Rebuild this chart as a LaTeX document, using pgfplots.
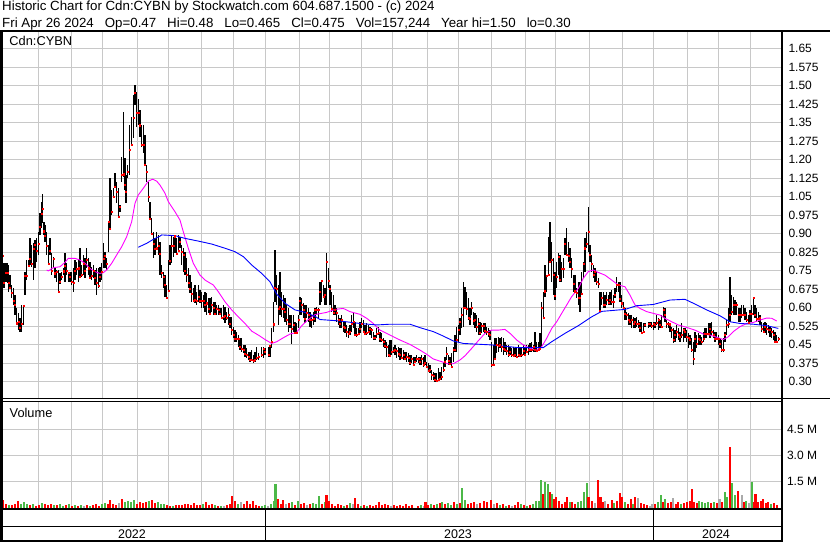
\documentclass[border=0pt]{standalone}
\usepackage{fontspec}
\setmainfont{Liberation Sans}
\usepackage{pgfplots}
\usepackage{pgfplotstable}
\pgfplotsset{compat=1.18}
\definecolor{gridc}{RGB}{200,200,200}
\definecolor{volg}{RGB}{76,184,72}
\definecolor{volr}{RGB}{255,0,0}
\definecolor{voln}{RGB}{170,170,170}
\definecolor{mag}{RGB}{255,0,255}
\definecolor{mablue}{RGB}{0,0,255}

\pgfplotstableread{
x h l c
2.7 0.814 0.581 0.812
4.0 0.780 0.678 0.700
6.0 0.780 0.705 0.742
7.3 0.780 0.700 0.742
8.3 0.773 0.665 0.700
10.0 0.732 0.678 0.682
11.7 0.692 0.638 0.660
13.3 0.678 0.611 0.628
15.0 0.651 0.570 0.611
16.7 0.597 0.536 0.537
18.3 0.577 0.509 0.543
20.0 0.557 0.503 0.519
21.7 0.611 0.503 0.536
23.3 0.611 0.530 0.608
25.0 0.746 0.651 0.730
26.7 0.793 0.712 0.730
28.3 0.793 0.766 0.769
30.0 0.881 0.773 0.800
31.7 0.854 0.766 0.780
33.3 0.861 0.712 0.840
35.0 0.875 0.760 0.857
36.7 0.881 0.787 0.830
38.3 0.908 0.814 0.861
40.0 0.982 0.895 0.930
41.7 1.030 0.922 0.982
42.7 1.061 0.942 1.000
44.0 0.949 0.895 0.910
45.0 0.935 0.868 0.892
46.7 0.908 0.814 0.850
48.3 0.854 0.773 0.777
50.0 0.881 0.814 0.830
51.7 0.820 0.732 0.750
53.3 0.807 0.759 0.799
55.0 0.766 0.719 0.740
56.7 0.753 0.705 0.746
58.3 0.753 0.665 0.665
60.0 0.739 0.698 0.705
61.7 0.746 0.712 0.727
63.3 0.759 0.732 0.748
65.0 0.820 0.705 0.770
66.7 0.780 0.732 0.750
68.3 0.746 0.705 0.741
70.0 0.746 0.705 0.726
71.7 0.746 0.692 0.705
73.3 0.759 0.665 0.700
75.0 0.793 0.712 0.749
76.7 0.787 0.732 0.757
78.3 0.793 0.705 0.760
80.0 0.841 0.719 0.727
81.7 0.773 0.726 0.732
83.3 0.814 0.732 0.780
85.0 0.800 0.719 0.750
86.7 0.841 0.759 0.793
88.3 0.800 0.732 0.760
90.0 0.787 0.719 0.720
91.7 0.766 0.712 0.730
93.3 0.773 0.719 0.750
95.0 0.753 0.692 0.720
96.7 0.759 0.651 0.700
98.3 0.759 0.678 0.690
100.0 0.766 0.705 0.725
101.7 0.780 0.712 0.745
103.3 0.861 0.759 0.800
105.0 0.827 0.759 0.812
106.7 0.800 0.753 0.777
108.3 0.949 0.827 0.949
110.0 1.124 0.915 0.920
111.7 1.077 0.976 0.989
113.3 1.084 1.043 1.050
115.0 1.145 1.091 1.091
116.7 1.111 1.023 1.070
118.3 1.084 0.962 0.969
120.0 1.016 0.989 1.010
121.7 1.212 1.111 1.140
123.3 1.394 1.131 1.141
125.0 1.205 1.077 1.100
126.0 1.138 1.023 1.070
127.7 1.178 1.124 1.150
129.3 1.340 1.138 1.240
131.7 1.374 1.259 1.262
133.3 1.462 1.286 1.370
135.0 1.503 1.421 1.473
136.7 1.475 1.333 1.390
138.3 1.448 1.340 1.390
140.0 1.400 1.290 1.340
141.7 1.340 1.250 1.262
143.3 1.340 1.226 1.260
145.0 1.300 1.178 1.180
146.7 1.178 1.111 1.150
148.3 1.111 1.030 1.050
150.0 1.030 0.962 0.962
151.7 0.962 0.895 0.900
153.3 0.908 0.800 0.860
155.0 0.881 0.814 0.840
156.7 0.908 0.841 0.841
158.3 0.895 0.814 0.850
160.0 0.868 0.732 0.818
161.7 0.773 0.719 0.742
163.3 0.746 0.678 0.726
165.0 0.732 0.645 0.692
166.7 0.692 0.638 0.640
168.3 0.793 0.665 0.669
170.0 0.854 0.773 0.789
171.7 0.895 0.780 0.851
173.3 0.888 0.807 0.851
175.0 0.895 0.820 0.890
176.7 0.881 0.814 0.820
178.3 0.895 0.827 0.831
180.0 0.888 0.841 0.868
181.7 0.854 0.773 0.827
183.3 0.841 0.746 0.814
185.0 0.827 0.732 0.750
186.7 0.800 0.705 0.732
188.3 0.759 0.678 0.703
190.0 0.732 0.658 0.678
191.7 0.705 0.624 0.658
193.3 0.678 0.624 0.628
195.0 0.692 0.618 0.631
196.7 0.665 0.611 0.627
198.3 0.692 0.624 0.645
200.0 0.672 0.618 0.627
201.7 0.665 0.597 0.628
203.3 0.651 0.597 0.627
205.0 0.665 0.584 0.611
206.7 0.658 0.570 0.618
208.3 0.638 0.577 0.597
210.0 0.638 0.570 0.574
211.7 0.645 0.584 0.611
213.3 0.624 0.570 0.600
215.0 0.624 0.570 0.577
216.7 0.611 0.570 0.597
218.3 0.611 0.570 0.591
220.0 0.597 0.570 0.577
221.7 0.597 0.557 0.558
223.3 0.611 0.550 0.563
225.0 0.604 0.536 0.567
226.7 0.584 0.550 0.561
228.3 0.597 0.530 0.573
230.0 0.563 0.516 0.536
231.7 0.563 0.489 0.509
233.3 0.523 0.476 0.491
235.0 0.509 0.462 0.476
236.7 0.503 0.462 0.476
238.3 0.489 0.442 0.476
240.0 0.476 0.428 0.442
241.7 0.476 0.422 0.435
243.3 0.449 0.415 0.428
245.0 0.449 0.401 0.415
246.7 0.435 0.395 0.408
248.3 0.422 0.388 0.401
250.0 0.422 0.381 0.388
251.7 0.428 0.388 0.390
253.3 0.408 0.374 0.384
255.0 0.422 0.381 0.388
256.7 0.442 0.388 0.397
258.3 0.415 0.388 0.401
261.7 0.442 0.401 0.408
263.3 0.442 0.395 0.435
265.0 0.435 0.408 0.422
268.3 0.442 0.401 0.408
270.0 0.449 0.401 0.446
271.7 0.516 0.435 0.462
273.3 0.624 0.503 0.533
275.0 0.834 0.624 0.682
276.7 0.732 0.611 0.678
278.3 0.692 0.530 0.597
280.0 0.746 0.570 0.604
281.7 0.665 0.563 0.597
283.3 0.651 0.557 0.597
285.0 0.638 0.543 0.584
286.7 0.611 0.530 0.550
288.3 0.597 0.503 0.536
290.0 0.570 0.516 0.536
291.7 0.570 0.451 0.516
293.3 0.570 0.503 0.530
295.0 0.543 0.496 0.500
296.7 0.536 0.496 0.500
298.3 0.570 0.516 0.550
300.0 0.645 0.570 0.627
301.7 0.638 0.570 0.611
303.3 0.618 0.557 0.591
305.0 0.611 0.536 0.557
306.7 0.611 0.557 0.581
308.3 0.597 0.543 0.570
310.0 0.584 0.523 0.550
311.7 0.570 0.516 0.550
313.3 0.584 0.530 0.557
315.0 0.597 0.543 0.591
316.7 0.604 0.570 0.593
318.3 0.597 0.557 0.591
320.0 0.705 0.611 0.665
321.7 0.712 0.624 0.710
323.3 0.692 0.638 0.645
325.0 0.678 0.611 0.651
326.7 0.820 0.611 0.787
328.3 0.759 0.678 0.710
330.0 0.692 0.611 0.678
331.7 0.665 0.584 0.597
333.3 0.651 0.570 0.580
335.0 0.611 0.570 0.591
336.7 0.597 0.543 0.581
338.3 0.570 0.530 0.550
340.0 0.557 0.516 0.536
341.7 0.570 0.516 0.550
343.3 0.543 0.503 0.523
345.0 0.543 0.496 0.519
346.7 0.530 0.482 0.503
348.3 0.516 0.476 0.496
350.0 0.530 0.489 0.503
351.7 0.570 0.503 0.536
353.3 0.577 0.516 0.543
355.0 0.543 0.489 0.491
356.7 0.516 0.482 0.491
358.3 0.516 0.489 0.496
360.0 0.543 0.496 0.516
361.7 0.557 0.516 0.536
363.3 0.550 0.503 0.503
365.0 0.530 0.489 0.496
366.7 0.536 0.489 0.500
368.3 0.530 0.496 0.503
370.0 0.523 0.489 0.516
371.7 0.516 0.476 0.510
373.3 0.503 0.469 0.478
375.0 0.489 0.469 0.478
376.7 0.516 0.476 0.496
378.3 0.523 0.489 0.500
380.0 0.503 0.462 0.473
381.7 0.496 0.462 0.469
383.3 0.476 0.442 0.462
385.0 0.469 0.435 0.446
386.7 0.462 0.401 0.442
388.3 0.449 0.401 0.408
390.0 0.469 0.401 0.404
391.7 0.469 0.408 0.422
393.3 0.442 0.415 0.424
395.0 0.449 0.408 0.428
396.7 0.435 0.395 0.424
398.3 0.442 0.401 0.415
400.0 0.435 0.388 0.408
401.7 0.435 0.395 0.397
403.3 0.428 0.388 0.408
405.0 0.422 0.388 0.395
406.7 0.422 0.381 0.401
408.3 0.415 0.381 0.397
410.0 0.408 0.368 0.378
411.7 0.408 0.374 0.395
413.3 0.401 0.368 0.370
415.0 0.401 0.374 0.381
416.7 0.408 0.381 0.392
418.3 0.401 0.374 0.392
420.0 0.401 0.368 0.381
421.7 0.408 0.368 0.395
423.3 0.401 0.361 0.368
425.0 0.408 0.368 0.378
426.7 0.381 0.354 0.361
428.3 0.374 0.341 0.343
430.0 0.368 0.334 0.347
431.7 0.347 0.307 0.327
433.3 0.341 0.307 0.324
435.0 0.334 0.300 0.307
436.7 0.334 0.300 0.303
438.3 0.354 0.303 0.307
440.0 0.341 0.307 0.311
441.7 0.361 0.307 0.320
443.3 0.381 0.341 0.347
445.0 0.401 0.361 0.381
446.7 0.442 0.388 0.415
448.3 0.408 0.368 0.384
450.0 0.401 0.368 0.373
451.7 0.415 0.354 0.361
453.3 0.442 0.381 0.428
455.0 0.489 0.422 0.431
456.7 0.523 0.422 0.469
458.3 0.530 0.462 0.509
460.0 0.557 0.489 0.543
461.7 0.597 0.516 0.570
463.3 0.705 0.523 0.600
465.0 0.685 0.597 0.600
466.7 0.665 0.570 0.597
468.3 0.638 0.550 0.560
470.0 0.597 0.530 0.557
471.7 0.624 0.570 0.600
473.3 0.584 0.530 0.546
475.0 0.577 0.516 0.550
476.7 0.570 0.503 0.523
478.3 0.557 0.489 0.536
480.0 0.543 0.489 0.500
481.7 0.536 0.496 0.527
483.3 0.536 0.503 0.527
485.0 0.536 0.496 0.505
486.7 0.523 0.489 0.503
488.3 0.516 0.482 0.496
490.0 0.509 0.469 0.489
491.7 0.462 0.361 0.368
493.3 0.449 0.368 0.370
495.0 0.476 0.395 0.395
496.7 0.476 0.415 0.449
498.3 0.482 0.422 0.446
500.0 0.476 0.435 0.449
501.7 0.482 0.422 0.442
503.3 0.476 0.408 0.435
505.0 0.462 0.422 0.431
506.7 0.449 0.408 0.424
508.3 0.449 0.401 0.411
510.0 0.442 0.408 0.422
511.7 0.435 0.401 0.408
513.3 0.442 0.401 0.404
515.0 0.435 0.401 0.408
516.7 0.435 0.397 0.401
518.3 0.449 0.401 0.408
520.0 0.442 0.401 0.405
521.7 0.442 0.401 0.408
523.3 0.449 0.408 0.427
525.0 0.442 0.408 0.411
526.7 0.449 0.415 0.422
528.3 0.449 0.408 0.428
530.0 0.455 0.422 0.431
531.7 0.462 0.422 0.428
533.3 0.449 0.422 0.442
535.0 0.503 0.422 0.428
536.7 0.462 0.422 0.427
538.3 0.462 0.428 0.428
540.0 0.496 0.435 0.435
541.7 0.624 0.435 0.600
543.3 0.665 0.557 0.558
545.0 0.773 0.645 0.667
546.7 0.732 0.665 0.730
548.3 0.888 0.732 0.732
550.0 0.949 0.787 0.787
551.7 0.868 0.705 0.793
553.3 0.800 0.651 0.732
555.0 0.746 0.631 0.648
556.7 0.787 0.678 0.726
558.3 0.820 0.732 0.807
560.0 0.814 0.705 0.712
561.7 0.787 0.705 0.759
563.3 0.800 0.719 0.759
565.0 0.881 0.814 0.861
566.7 0.922 0.814 0.814
568.3 0.868 0.787 0.811
570.0 0.841 0.759 0.787
571.7 0.800 0.719 0.759
573.3 0.732 0.665 0.699
575.0 0.732 0.665 0.667
576.7 0.678 0.638 0.662
578.3 0.705 0.611 0.640
580.0 0.705 0.584 0.640
581.7 0.746 0.651 0.658
583.3 0.787 0.719 0.780
585.0 0.881 0.746 0.841
586.7 0.908 0.841 0.861
588.3 1.009 0.827 0.908
590.0 0.854 0.787 0.814
591.7 0.814 0.746 0.780
593.3 0.773 0.719 0.735
595.0 0.759 0.705 0.746
596.7 0.746 0.692 0.705
598.3 0.719 0.678 0.699
600.0 0.665 0.584 0.588
601.7 0.665 0.611 0.640
603.3 0.665 0.597 0.611
605.0 0.651 0.597 0.611
606.7 0.665 0.611 0.631
608.3 0.651 0.611 0.621
610.0 0.665 0.611 0.631
611.7 0.672 0.611 0.624
613.3 0.651 0.597 0.624
615.0 0.678 0.638 0.651
616.7 0.726 0.665 0.692
618.3 0.705 0.665 0.694
620.0 0.705 0.624 0.638
621.7 0.651 0.597 0.618
623.3 0.624 0.591 0.600
625.0 0.597 0.550 0.577
626.7 0.584 0.550 0.570
628.3 0.577 0.530 0.550
630.0 0.570 0.530 0.543
631.7 0.570 0.516 0.550
633.3 0.563 0.516 0.536
635.0 0.557 0.516 0.543
636.7 0.563 0.523 0.536
638.3 0.550 0.516 0.536
640.0 0.543 0.503 0.519
641.7 0.543 0.496 0.500
643.3 0.536 0.503 0.503
645.0 0.536 0.523 0.530
648.3 0.543 0.516 0.536
650.0 0.543 0.523 0.536
651.7 0.543 0.516 0.527
653.3 0.543 0.509 0.536
655.0 0.543 0.516 0.530
656.7 0.570 0.530 0.540
658.3 0.557 0.509 0.550
660.0 0.550 0.516 0.530
661.7 0.570 0.516 0.523
663.3 0.604 0.557 0.591
665.0 0.597 0.543 0.570
666.7 0.550 0.516 0.536
668.3 0.543 0.516 0.536
670.0 0.536 0.503 0.533
671.7 0.523 0.476 0.509
673.3 0.516 0.455 0.469
675.0 0.509 0.462 0.489
676.7 0.530 0.476 0.503
678.3 0.516 0.469 0.489
680.0 0.503 0.462 0.482
681.7 0.536 0.476 0.489
683.3 0.516 0.462 0.509
685.0 0.516 0.476 0.503
686.7 0.509 0.462 0.482
688.3 0.496 0.435 0.478
690.0 0.489 0.449 0.469
691.7 0.476 0.422 0.430
693.3 0.462 0.368 0.395
695.0 0.503 0.422 0.476
696.7 0.489 0.435 0.455
698.3 0.496 0.449 0.476
700.0 0.489 0.449 0.469
701.7 0.482 0.449 0.462
703.3 0.503 0.462 0.476
705.0 0.516 0.476 0.496
706.7 0.516 0.476 0.496
708.3 0.536 0.489 0.496
710.0 0.536 0.476 0.516
711.7 0.543 0.489 0.503
713.3 0.509 0.476 0.489
715.0 0.503 0.462 0.476
716.7 0.503 0.469 0.476
718.3 0.489 0.449 0.476
720.0 0.476 0.435 0.455
721.7 0.469 0.422 0.428
723.3 0.476 0.422 0.428
725.0 0.503 0.462 0.489
726.7 0.550 0.489 0.530
728.3 0.597 0.516 0.536
730.0 0.726 0.543 0.570
731.7 0.651 0.570 0.584
733.3 0.645 0.570 0.611
735.0 0.631 0.570 0.611
736.7 0.624 0.570 0.611
738.3 0.597 0.543 0.570
740.0 0.597 0.543 0.573
741.7 0.611 0.557 0.570
743.3 0.611 0.570 0.573
745.0 0.597 0.550 0.573
746.7 0.584 0.543 0.550
748.3 0.570 0.536 0.539
750.0 0.591 0.543 0.577
751.7 0.611 0.543 0.577
753.3 0.645 0.570 0.640
755.0 0.611 0.557 0.570
756.7 0.597 0.543 0.557
758.3 0.584 0.543 0.557
760.0 0.570 0.530 0.558
761.7 0.543 0.503 0.516
763.3 0.536 0.496 0.503
765.0 0.543 0.496 0.523
766.7 0.536 0.489 0.516
768.3 0.530 0.496 0.509
770.0 0.523 0.482 0.509
771.7 0.516 0.476 0.503
773.3 0.509 0.469 0.489
775.0 0.503 0.462 0.462
776.7 0.489 0.455 0.462
778.3 0.480 0.465 0.475
}\price

\pgfplotstableread{
x v
9 0.15
21 0.2
24 0.3
27 0.22
33 0.2
42 0.25
54 0.15
60 0.2
63 0.1
69 0.18
75 0.15
81 0.12
90 0.1
102 0.2
105 0.25
125 0.3
128 0.35
131 0.3
134 0.45
149 0.35
158 0.3
161 0.2
164 0.2
173 0.1
203 0.2
215 0.15
221 0.1
238 0.2
262 0.1
265 0.15
271 0.2
274 0.35
275.5 1.35
292 0.3
298 0.4
313 0.25
316 0.2
319 0.65
325 0.3
344 0.1
350 0.25
361 0.1
367 0.1
421 0.15
431 0.2
437 0.2
442 0.33
448 0.25
451 0.15
457 0.2
462 1.15
465 0.45
500 0.15
506 0.1
521 0.2
527 0.1
533 0.2
536 0.35
539 0.4
541 1.6
545 1.45
547.7 1.35
551.7 0.77
570 0.3
578 0.3
581 0.35
584 0.87
587 1.42
614 0.25
625 0.3
633 0.2
658 0.3
661 0.73
665 0.48
681 0.2
699 0.35
702 0.3
705 0.25
708 0.3
714 0.3
725 0.87
727 0.6
732.3 1.44
735 0.7
746 0.35
751.7 1.48
771 0.2
}\volgreen

\pgfplotstableread{
x v
84 0.1
119 0.25
224 0.1
241 0.3
268 0.1
286 0.2
307 0.15
353 0.2
391 0.1
424 0.1
477 0.2
494 0.2
512 0.1
595 0.25
605 0.38
638 0.54
650 0.1
652 0.2
673.3 0.54
719.5 0.48
741.7 0.73
749 0.25
}\volgray

\pgfplotstableread{
x v
3 0.45
6 0.2
12 0.12
15 0.2
18 0.35
30 0.15
36 0.1
39 0.15
45 0.18
48 0.15
51 0.2
57 0.12
66 0.15
72 0.1
78 0.1
87 0.15
93 0.12
96 0.2
99 0.1
108 0.2
110 0.45
113 0.2
116 0.15
122 0.5
137 0.2
140 0.3
143 0.25
146 0.3
152 0.45
155 0.25
167 0.15
170 0.1
176 0.12
179 0.15
182 0.15
185 0.2
188 0.2
191 0.15
194 0.25
197 0.15
200 0.15
206 0.3
209 0.15
212 0.2
218 0.1
227 0.15
230 0.2
232 0.65
235 0.35
244 0.2
247 0.4
250 0.2
253 0.4
256 0.15
259 0.1
278 0.5
281 0.2
283 0.45
289 0.25
295 0.15
301 0.2
304 0.25
310 0.2
322 0.2
326.5 0.72
329 0.35
332 0.2
335 0.1
338 0.2
341 0.15
347 0.15
355 0.55
358 0.2
364 0.15
370 0.15
373 0.1
376 0.15
379 0.3
382 0.15
385 0.2
388 0.15
394 0.15
397 0.1
400 0.15
403 0.1
406 0.2
409 0.1
412 0.15
418 0.1
425.5 0.33
428 0.15
434 0.15
440 0.25
445 0.2
454 0.3
460 0.25
468 0.2
471 0.25
474 0.3
480 0.25
484 0.4
487 0.3
491 0.45
497 0.25
503 0.2
509 0.15
515 0.15
518 0.3
524 0.15
530 0.15
543 0.77
550 0.87
554 0.5
556 0.63
559 0.35
562 0.2
565 0.3
567 0.58
572 0.33
575 0.2
588.5 0.58
592 0.38
598.3 1.6
600.5 0.6
603 0.3
608 0.2
611.7 0.42
617 0.38
620 0.85
622 0.58
628 0.2
631 0.48
635 0.58
641 0.25
644 0.2
647 0.15
655 0.2
663 0.3
668 0.25
671 0.3
676 0.2
678.3 0.33
684 0.25
687 0.3
690 0.38
691.7 1.06
694 0.3
697 0.25
711 0.25
717 0.25
722 0.3
729.7 3.5
738.3 0.96
744 0.3
754 0.3
755.5 0.77
758 0.3
761 0.4
763.3 0.48
766 0.25
768.3 0.3
774 0.25
777 0.15
}\volred

\begin{document}
\begin{tikzpicture}
\useasboundingbox (0,0) rectangle (830bp,543bp);
\fill[white] (0,0) rectangle (830bp,543bp);

% ---------------- price panel ----------------
\begin{axis}[
  at={(2bp,144bp)}, anchor=south west,
  width=780bp, height=367bp, scale only axis,
  xmin=2, xmax=782, ymin=0.2298, ymax=1.7177,
  axis line style={draw=none},
  xtick={38.3,71,102.3,137.3,168.3,201.7,233.3,265.5,299.3,329.3,361,392.3,427.3,458.3,491,525.3,555.7,589.3,622,653.5,687.3,718.7,750.7},
  xticklabels={},
  xticklabel style={text opacity=0},
  ytick={0.30,0.375,0.45,0.525,0.60,0.675,0.75,0.825,0.90,0.975,1.05,1.125,1.20,1.275,1.35,1.425,1.50,1.575,1.65},
  yticklabels={0.30,0.375,0.45,0.525,0.60,0.675,0.75,0.825,0.90,0.975,1.05,1.125,1.20,1.275,1.35,1.425,1.50,1.575,1.65},
  yticklabel pos=right,
  major tick length=0pt,
  grid=major, major grid style={draw=gridc, line width=0.8bp},
  yticklabel style={anchor=west, inner sep=0pt, xshift=6.3bp, font=\fontsize{12bp}{14bp}\selectfont, text=black},
]
\addplot[draw=none, mark=none, forget plot,
  error bars/.cd, y dir=both, y explicit, error mark=none,
  error bar style={draw=black, line width=1.15bp}]
  table[x=x, y=c, y error plus expr=\thisrow{h}-\thisrow{c}, y error minus expr=\thisrow{c}-\thisrow{l}] {\price};
\addplot[only marks, mark=square*, mark size=0.55bp, color=red, mark options={draw=none, fill=red}] table[x=x, y=c] {\price};
\addplot[mag, line width=0.9bp] coordinates {
(46.7,0.753)(48.3,0.749)(53.3,0.762)(60,0.766)(65,0.784)(68.3,0.800)(75,0.800)(80,0.793)(85,0.780)(90,0.759)(95,0.746)(100,0.739)(103.3,0.742)(106.7,0.753)(111.7,0.780)(116.7,0.814)(121.7,0.847)(126.7,0.888)(131.7,0.949)(135,1.023)(138.3,1.057)(143.3,1.084)(148.3,1.113)(152.7,1.121)(156.7,1.113)(160,1.097)(165,1.064)(168.3,1.030)(175,0.989)(180,0.955)(183.3,0.908)(188.3,0.841)(193.3,0.780)(200,0.732)(205,0.712)(213.3,0.692)(218.3,0.665)(225,0.624)(231.7,0.591)(238.3,0.563)(245,0.536)(251.7,0.505)(258.3,0.489)(265,0.471)(271.7,0.455)(276.7,0.462)(283.3,0.478)(290,0.493)(296.7,0.500)(301.7,0.527)(308.3,0.552)(315,0.572)(326.7,0.581)(335,0.593)(343.3,0.597)(350,0.584)(360,0.573)(366.7,0.557)(373.3,0.536)(380,0.509)(390,0.489)(400,0.469)(410,0.451)(420,0.428)(426.7,0.411)(433.3,0.392)(441.7,0.381)(448.3,0.372)(453.3,0.373)(460,0.388)(465,0.405)(471.7,0.435)(478.3,0.466)(485,0.496)(491.7,0.509)(498.3,0.509)(505,0.512)(510,0.496)(516.7,0.469)(523.3,0.449)(530,0.435)(536.7,0.428)(541.7,0.442)(546.7,0.476)(551.7,0.516)(556.7,0.543)(561.7,0.577)(566.7,0.611)(571.7,0.645)(578.3,0.678)(583.3,0.719)(588.3,0.746)(593.3,0.753)(598.3,0.743)(605,0.732)(611.7,0.712)(618.3,0.692)(622,0.688)(625,0.685)(630,0.651)(635,0.611)(640,0.597)(646.7,0.584)(653.3,0.577)(660,0.570)(665,0.557)(671.7,0.543)(678.3,0.530)(686.7,0.520)(695,0.509)(703.3,0.493)(710,0.489)(716.7,0.480)(723.3,0.471)(728.3,0.482)(733.3,0.503)(740,0.523)(746.7,0.536)(753.3,0.540)(760,0.550)(766.7,0.558)(771.7,0.557)(776.7,0.546)
};
\addplot[mablue, line width=0.9bp] coordinates {
(138.3,0.845)(146.7,0.861)(153.3,0.877)(160,0.890)(161.7,0.895)(175,0.892)(185,0.881)(198.3,0.870)(211.7,0.858)(225,0.841)(235,0.827)(243.3,0.807)(251.7,0.773)(261.7,0.739)(270,0.705)(276.7,0.655)(285,0.618)(295,0.591)(305,0.581)(315,0.565)(320,0.552)(340,0.546)(360,0.536)(376.7,0.530)(390,0.533)(410,0.533)(420,0.519)(433.3,0.503)(443.3,0.485)(453.3,0.465)(463.3,0.455)(491.7,0.449)(518.3,0.438)(543.3,0.438)(551.7,0.462)(565,0.496)(578.3,0.527)(591.7,0.563)(601.7,0.585)(625,0.593)(636.7,0.608)(653.3,0.613)(670,0.631)(685,0.634)(693.3,0.618)(706.7,0.591)(720,0.567)(730,0.543)(740,0.536)(753.3,0.533)(766.7,0.527)(778.3,0.516)
};
\end{axis}

% ---------------- volume panel ----------------
\begin{axis}[
  at={(2bp,35.5bp)}, anchor=south west,
  width=780bp, height=105.5bp, scale only axis,
  xmin=2, xmax=782, ymin=0, ymax=6.087,
  axis line style={draw=none},
  xtick={38.3,71,102.3,137.3,168.3,201.7,233.3,265.5,299.3,329.3,361,392.3,427.3,458.3,491,525.3,555.7,589.3,622,653.5,687.3,718.7,750.7},
  xticklabels={},
  xticklabel style={text opacity=0},
  ytick={1.5,3,4.5},
  yticklabels={1.5 M,3.0 M,4.5 M},
  yticklabel pos=right,
  major tick length=0pt,
  grid=major, major grid style={draw=gridc, line width=0.8bp},
  yticklabel style={anchor=west, inner sep=0pt, xshift=4.8bp, font=\fontsize{12bp}{14bp}\selectfont, text=black},
]
\addplot[ycomb, draw=volg, line width=2.1bp, mark=none] table[x=x, y=v] {\volgreen};
\addplot[ycomb, draw=voln, line width=2.1bp, mark=none] table[x=x, y=v] {\volgray};
\addplot[ycomb, draw=volr, line width=2.1bp, mark=none] table[x=x, y=v] {\volred};
\end{axis}

% ---------------- frame ----------------
\draw[black, line width=2bp] (0,512bp) -- (830bp,512bp);
\draw[black, line width=3bp] (1.5bp,512bp) -- (1.5bp,1bp);
\draw[black, line width=2bp] (782bp,512bp) -- (782bp,1bp);
\draw[black, line width=1bp] (0,144bp) -- (830bp,144bp);
\draw[black, line width=1bp] (0,141bp) -- (782bp,141bp);
\draw[black, line width=2bp] (0,34bp) -- (783bp,34bp);
\draw[black, line width=1.6bp] (0,16.3bp) -- (783bp,16.3bp);
\draw[black, line width=2bp] (0,2bp) -- (783bp,2bp);
\draw[black, line width=1bp] (265.3bp,34bp) -- (265.3bp,2bp);
\draw[black, line width=1bp] (653.7bp,34bp) -- (653.7bp,2bp);

% ---------------- texts ----------------
\node[anchor=base west, inner sep=0pt, font=\fontsize{13.3bp}{16bp}\selectfont] at (2bp,532.3bp)
  {Historic Chart for Cdn:CYBN by Stockwatch.com 604.687.1500 - (c) 2024};
\node[anchor=base west, inner sep=0pt, font=\fontsize{13.3bp}{16bp}\selectfont] at (2bp,515.7bp)
  {Fri Apr 26 2024\hspace*{11bp}Op=0.47\hspace*{11bp}Hi=0.48\hspace*{11bp}Lo=0.465\hspace*{11bp}Cl=0.475\hspace*{11bp}Vol=157,244\hspace*{11bp}Year hi=1.50\hspace*{11bp}lo=0.30};
\node[anchor=base west, inner sep=0pt, font=\fontsize{12.8bp}{15bp}\selectfont] at (9.3bp,497bp) {Cdn:CYBN};
\node[anchor=base west, inner sep=0pt, font=\fontsize{12.8bp}{15bp}\selectfont] at (9.5bp,125bp) {Volume};
\node[inner sep=0pt, font=\fontsize{12.5bp}{14bp}\selectfont] at (132bp,9bp) {2022};
\node[inner sep=0pt, font=\fontsize{12.5bp}{14bp}\selectfont] at (458bp,9bp) {2023};
\node[inner sep=0pt, font=\fontsize{12.5bp}{14bp}\selectfont] at (716bp,9bp) {2024};
\end{tikzpicture}
\end{document}
